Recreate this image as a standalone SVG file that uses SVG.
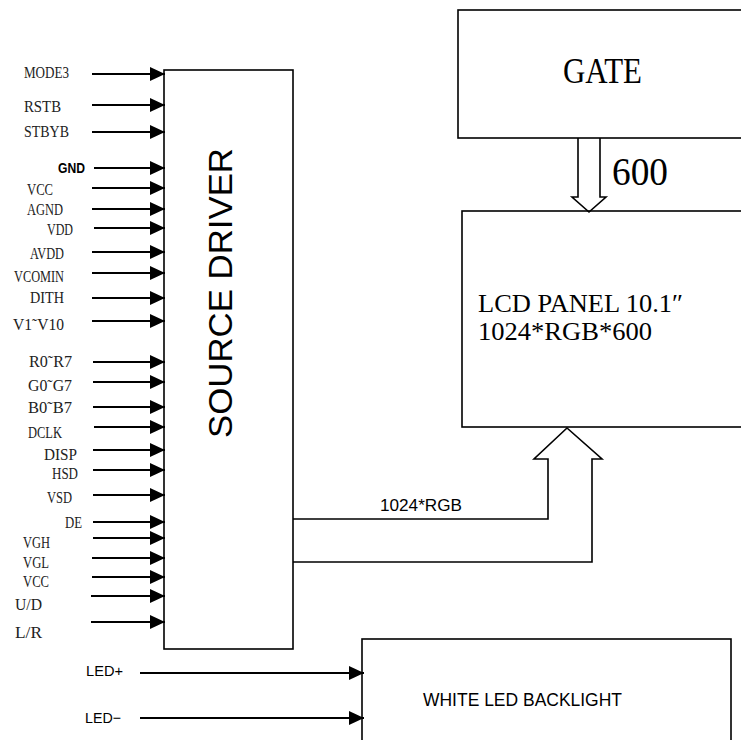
<svg xmlns="http://www.w3.org/2000/svg" width="741" height="740" viewBox="0 0 741 740">
<style>
.box{fill:#fff;stroke:#000;stroke-width:1.6}
.ln{stroke:#000;stroke-width:2;fill:none}
.hol{stroke:#000;stroke-width:1.6;fill:none}
.lbl{font-family:"Liberation Serif","Noto Sans CJK SC",serif;font-size:16px;fill:#222}
.sans{font-family:"Liberation Sans",Arial,sans-serif;fill:#000}
.ser{font-family:"Liberation Serif","Noto Sans CJK SC",serif;fill:#000}
</style>
<defs>
<marker id="ah" markerUnits="userSpaceOnUse" markerWidth="15" markerHeight="14" refX="15" refY="7" orient="auto">
<path d="M0,0 L15,7 L0,14 z" fill="#000"/>
</marker>
</defs>
<rect width="741" height="740" fill="#fff"/>

<g id="gate">
<rect class="box" x="458" y="10" width="300" height="128"/>
<text class="ser" x="563" y="83" font-size="35" textLength="79" lengthAdjust="spacingAndGlyphs">GATE</text>
</g>

<g id="lcd">
<rect class="box" x="462" y="211" width="300" height="216"/>
<text class="ser" x="478" y="312" font-size="26" textLength="205" lengthAdjust="spacingAndGlyphs">LCD PANEL 10.1″</text>
<text class="ser" x="478" y="340" font-size="26" textLength="174" lengthAdjust="spacingAndGlyphs">1024*RGB*600</text>
</g>

<g id="source-driver">
<rect class="box" x="164" y="70" width="129" height="579"/>
<text class="sans" transform="translate(232,293) rotate(-90)" text-anchor="middle" font-size="33" textLength="290" lengthAdjust="spacingAndGlyphs">SOURCE DRIVER</text>
</g>

<g id="backlight">
<rect class="box" x="362" y="639" width="369" height="120"/>
<text class="sans" x="423" y="706" font-size="18" textLength="199" lengthAdjust="spacingAndGlyphs">WHITE LED BACKLIGHT</text>
</g>

<g id="connectors">
<g class="ln" marker-end="url(#ah)">
<line x1="92" y1="74" x2="165" y2="74"/>
<line x1="92" y1="105" x2="165" y2="105"/>
<line x1="92" y1="132" x2="165" y2="132"/>
<line x1="94" y1="168" x2="165" y2="168"/>
<line x1="92" y1="188" x2="165" y2="188"/>
<line x1="92" y1="209" x2="165" y2="209"/>
<line x1="94" y1="228" x2="165" y2="228"/>
<line x1="92" y1="252" x2="165" y2="252"/>
<line x1="92" y1="273" x2="165" y2="273"/>
<line x1="92" y1="298" x2="165" y2="298"/>
<line x1="92" y1="321" x2="165" y2="321"/>
<line x1="93" y1="362" x2="165" y2="362"/>
<line x1="93" y1="382" x2="165" y2="382"/>
<line x1="93" y1="407" x2="165" y2="407"/>
<line x1="94" y1="427" x2="165" y2="427"/>
<line x1="93" y1="450" x2="165" y2="450"/>
<line x1="93" y1="470" x2="165" y2="470"/>
<line x1="93" y1="495" x2="165" y2="495"/>
<line x1="93" y1="522" x2="165" y2="522"/>
<line x1="93" y1="538" x2="165" y2="538"/>
<line x1="92" y1="558" x2="165" y2="558"/>
<line x1="92" y1="577" x2="165" y2="577"/>
<line x1="91" y1="596" x2="165" y2="596"/>
<line x1="91" y1="622" x2="165" y2="622"/>
<line x1="140" y1="673" x2="364" y2="673"/>
<line x1="140" y1="718" x2="364" y2="718"/>
</g>
<polyline class="hol" points="293,519 548,519 548,459 534,459 567,428 602,459 592,459 592,562 293,562"/>
<polyline class="hol" points="578,138 578,197 572,197 589,212 606,197 600,197 600,138"/>
</g>

<g id="labels">
<text class="lbl" x="24" y="78" textLength="45" lengthAdjust="spacingAndGlyphs">MODE3</text>
<text class="lbl" x="24" y="112" textLength="37" lengthAdjust="spacingAndGlyphs">RSTB</text>
<text class="lbl" x="24" y="137" textLength="45" lengthAdjust="spacingAndGlyphs">STBYB</text>
<text class="sans" x="58" y="173" font-size="15" font-weight="bold" textLength="27" lengthAdjust="spacingAndGlyphs">GND</text>
<text class="lbl" x="27" y="195" textLength="26" lengthAdjust="spacingAndGlyphs">VCC</text>
<text class="lbl" x="27" y="215" textLength="36" lengthAdjust="spacingAndGlyphs">AGND</text>
<text class="lbl" x="47" y="235" textLength="26" lengthAdjust="spacingAndGlyphs">VDD</text>
<text class="lbl" x="30" y="259" textLength="34" lengthAdjust="spacingAndGlyphs">AVDD</text>
<text class="lbl" x="14" y="282" textLength="50" lengthAdjust="spacingAndGlyphs">VCOMIN</text>
<text class="lbl" x="30" y="303" textLength="34" lengthAdjust="spacingAndGlyphs">DITH</text>
<text class="lbl" x="13" y="330" textLength="51" lengthAdjust="spacingAndGlyphs">V1˜V10</text>
<text class="lbl" x="29" y="367" textLength="43" lengthAdjust="spacingAndGlyphs">R0˜R7</text>
<text class="lbl" x="28" y="391" textLength="44" lengthAdjust="spacingAndGlyphs">G0˜G7</text>
<text class="lbl" x="28" y="413" textLength="44" lengthAdjust="spacingAndGlyphs">B0˜B7</text>
<text class="lbl" x="28" y="438" textLength="34" lengthAdjust="spacingAndGlyphs">DCLK</text>
<text class="lbl" x="44" y="460" textLength="33" lengthAdjust="spacingAndGlyphs">DISP</text>
<text class="lbl" x="52" y="479" textLength="26" lengthAdjust="spacingAndGlyphs">HSD</text>
<text class="lbl" x="47" y="503" textLength="25" lengthAdjust="spacingAndGlyphs">VSD</text>
<text class="lbl" x="65" y="528" textLength="17" lengthAdjust="spacingAndGlyphs">DE</text>
<text class="lbl" x="23" y="548" textLength="27" lengthAdjust="spacingAndGlyphs">VGH</text>
<text class="lbl" x="23" y="568" textLength="26" lengthAdjust="spacingAndGlyphs">VGL</text>
<text class="lbl" x="23" y="587" textLength="26" lengthAdjust="spacingAndGlyphs">VCC</text>
<text class="lbl" x="15" y="610" textLength="27" lengthAdjust="spacingAndGlyphs">U/D</text>
<text class="lbl" x="15" y="638" textLength="27" lengthAdjust="spacingAndGlyphs">L/R</text>
<text class="sans" x="380" y="511" font-size="17" textLength="82" lengthAdjust="spacingAndGlyphs">1024*RGB</text>
<text class="ser" x="612" y="185" font-size="40" textLength="56" lengthAdjust="spacingAndGlyphs">600</text>
<text class="sans" x="86" y="676" font-size="15" textLength="37" lengthAdjust="spacingAndGlyphs">LED+</text>
<text class="sans" x="85" y="723" font-size="15" textLength="36" lengthAdjust="spacingAndGlyphs">LED−</text>
</g>
</svg>
